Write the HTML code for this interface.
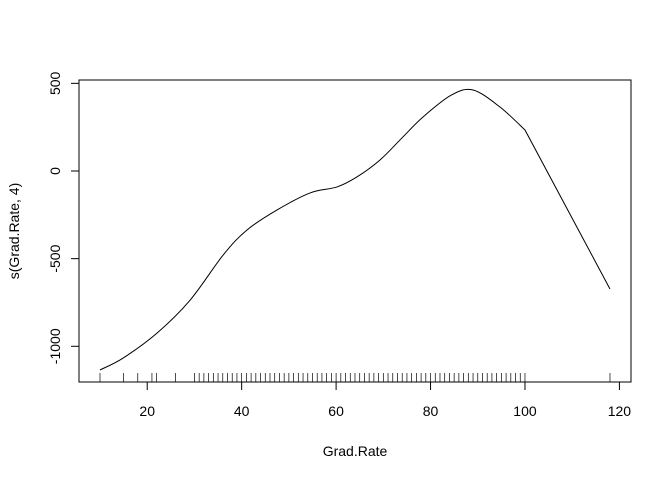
<!DOCTYPE html>
<html><head><meta charset="utf-8"><style>
body{margin:0;background:#fff}
svg text{font-family:"Liberation Sans",Arial,sans-serif;font-size:14px;fill:#000}
</style></head><body>
<svg id="c" width="672" height="480">
<rect x="79" y="80" width="552" height="302" fill="none" stroke="#000"/>
<g id="ax"></g>
<text x="355" y="456" text-anchor="middle">Grad.Rate</text>
<text transform="translate(19,231) rotate(-90)" text-anchor="middle">s(Grad.Rate, 4)</text>
</svg>
<script>
const xs=[10,14.9,22.1,29.1,36.1,41.1,47.5,54.5,60.2,64.4,69.3,74,78.4,84.4,89,94.7,100,118];
const ys=[-1135,-1067,-924,-736,-479,-337,-222,-125,-91,-34,63,190,308,433,462,365,234,-673];
const xTicks=[20,40,60,80,100,120];
const yTicks=[500,0,-500,-1000];
const rug=[10,15,18,21,22,26,30,31,32,33,34,35,36,37,38,39,40,41,42,43,44,45,46,47,48,49,50,51,52,53,54,55,56,57,58,59,60,61,62,63,64,65,66,67,68,69,70,71,72,73,74,75,76,77,78,79,80,81,82,83,84,85,86,87,88,89,90,91,92,93,94,95,96,97,98,99,100,118];
const X=v=>100+(v-10)*4.722, Y=v=>171-v*0.1753;
const ns="http://www.w3.org/2000/svg", svg=document.getElementById('c'), ax=document.getElementById('ax');
function mk(t,a,p){const e=document.createElementNS(ns,t);for(const k in a)e.setAttribute(k,a[k]);(p||svg).appendChild(e);return e;}
let l=mk('line',{x1:X(20),x2:X(120),y1:382,y2:382,stroke:'#000'},ax);


xTicks.forEach(t=>{const k=mk('line',{x1:X(t),x2:X(t),y1:382,y2:390,stroke:'#000'},ax);


const tx=mk('text',{x:X(t),y:416,'text-anchor':'middle'},ax);tx.textContent=t;

});
let l2=mk('line',{x1:79,x2:79,y1:Y(500),y2:Y(-1000),stroke:'#000'},ax);


yTicks.forEach(t=>{const k=mk('line',{x1:71,x2:79,y1:Y(t),y2:Y(t),stroke:'#000'},ax);


const tx=mk('text',{transform:`translate(60,${Y(t)}) rotate(-90)`,'text-anchor':'middle'},ax);tx.textContent=t;

});
rug.forEach(r=>{const k=mk('line',{x1:X(r),x2:X(r),y1:373,y2:382,stroke:'#000','stroke-width':0.7});

});
let pts=xs.map((x,i)=>[X(x),Y(ys[i])]),d=`M${pts[0]}`;
for(let i=0;i<pts.length-1;i++){
 if(xs[i]>=100){d+=` L${pts[i+1]}`;continue;}
 const p0=pts[Math.max(0,i-1)],p1=pts[i],p2=pts[i+1],p3=(xs[i+1]>=100)?pts[i+1]:pts[Math.min(pts.length-1,i+2)];
 d+=` C${p1[0]+(p2[0]-p0[0])/6},${p1[1]+(p2[1]-p0[1])/6} ${p2[0]-(p3[0]-p1[0])/6},${p2[1]-(p3[1]-p1[1])/6} ${p2[0]},${p2[1]}`;}
const pa=mk('path',{d:d,fill:'none',stroke:'#000','stroke-width':1});


</script>
</body></html>
